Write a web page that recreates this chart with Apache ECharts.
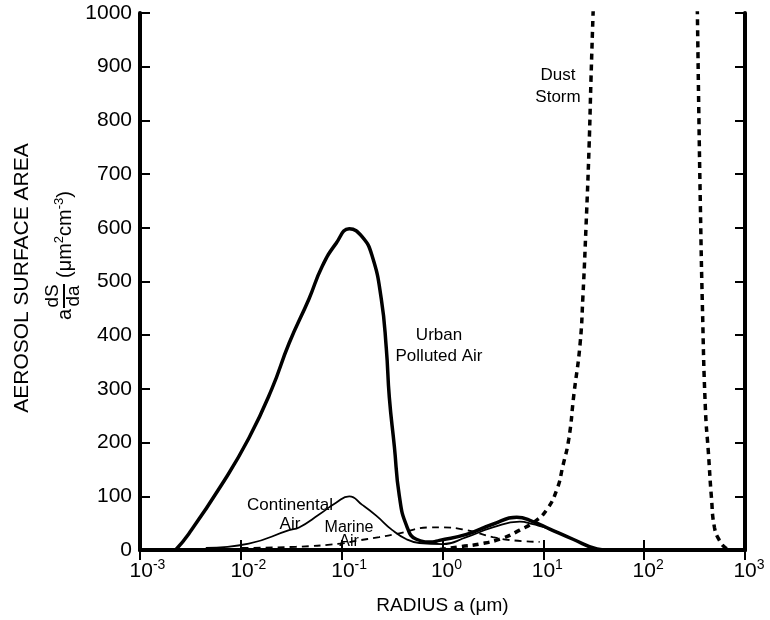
<!DOCTYPE html>
<html>
<head>
<meta charset="utf-8">
<script src="https://cdn.jsdelivr.net/npm/echarts@6/dist/echarts.min.js"></script>
<style>
html, body { margin: 0; padding: 0; background: #fff; }
#main { width: 770px; height: 620px; }
</style>
</head>
<body>
<div id="main"></div>
<script>
// 坐标轴范围
var xMin = 0.001, xMax = 1000;
var yMin = 0, yMax = 1000, yStep = 100;

// Urban Polluted Air
var urbanRadius = [0.00225, 0.00304, 0.00647, 0.012, 0.0203, 0.0301, 0.0475, 0.064, 0.088, 0.119, 0.16, 0.201, 0.247, 0.277, 0.297, 0.333, 0.373, 0.439, 0.551, 0.794, 0.933, 1.73, 3.15, 5.45, 7.87, 11.6, 19.7, 34.1, 42.9, 60];
var urbanArea   = [0, 30, 122, 208, 300, 385, 468, 528, 571, 598, 583, 547, 468, 376, 284, 193, 101, 46, 20, 15, 18, 29, 48, 61, 53, 39, 20, 2, 0, 0];

// Continental Air
var contRadius = [0.00449, 0.012, 0.0301, 0.0378, 0.0597, 0.088, 0.119, 0.16, 0.22, 0.318, 0.439, 0.59, 1.0, 1.73, 3.15, 5.83, 7.87, 11.6, 19.7, 34.1, 42.9];
var contArea   = [4, 12, 37, 42, 66, 88, 100, 84, 64, 37, 20, 13, 11, 24, 42, 53, 48, 39, 20, 2, 0];

// Marine Air
var marineRadius = [0.0102, 0.0352, 0.099, 0.139, 0.236, 0.373, 0.743, 1.0, 1.73, 3.15, 4.98, 9.2];
var marineArea   = [4, 6, 12, 17, 24, 31, 42, 42, 37, 24, 18, 15];

// Dust Storm (两段，中间超出 1000)
var dustLeftRadius = [0.944, 1.48, 2.33, 3.95, 5.83, 8.22, 10.8, 13.6, 15.6, 17.9, 20.1, 23.1, 24.7, 26.5, 28.4, 29.7, 31.1, 32.5];
var dustLeftArea   = [1, 6, 11, 22, 37, 53, 75, 112, 156, 207, 290, 382, 473, 602, 749, 877, 996, 1100];
var dustRightRadius = [333, 337, 348, 361, 378, 405, 434, 465, 498, 557, 640, 718];
var dustRightArea   = [1050, 1000, 820, 640, 455, 262, 180, 97, 42, 18, 4, 0];

var FONT = 'Liberation Sans, Arial, Helvetica, sans-serif';

function pairs(xs, ys) {
  return xs.map(function (x, i) { return [x, ys[i]]; });
}

function lineSeries(name, data, width, type) {
  return {
    name: name,
    type: 'line',
    data: data,
    xAxisIndex: 0,
    yAxisIndex: 0,
    showSymbol: false,
    smooth: 0.5,
    clip: true,
    lineStyle: { color: '#000', width: width, type: type }
  };
}

var myChart = echarts.init(document.getElementById('main'));

var axisLineStyle = { show: true, lineStyle: { color: '#000', width: 4 } };
var tickStyle = { show: true, inside: true, length: 10, lineStyle: { color: '#000', width: 2 } };

var option = {
  backgroundColor: '#fff',
  animation: false,
  grid: { left: 140, right: 25, top: 13, bottom: 62 },
  xAxis: [
    {
      type: 'log',
      logBase: 10,
      min: xMin,
      max: xMax,
      position: 'bottom',
      axisLine: axisLineStyle,
      axisTick: tickStyle,
      minorTick: { show: false },
      splitLine: { show: false },
      name: 'RADIUS a (\u03bcm)',
      nameLocation: 'middle',
      nameGap: 46,
      nameTextStyle: { color: '#000', fontSize: 19, fontFamily: FONT },
      axisLabel: {
        margin: 8,
        color: '#000',
        fontFamily: FONT,
        formatter: function (v) {
          var e = Math.round(Math.log(v) / Math.LN10);
          // 左侧留白，使底数 10 对准刻度
          return (e < 0 ? '{pn|}' : '{pp|}') + '{b|10}{s|' + e + '}';
        },
        rich: {
          pn: { width: 15 },
          pp: { width: 8 },
          b: { fontSize: 21, fontFamily: FONT, color: '#000' },
          s: { fontSize: 14, fontFamily: FONT, color: '#000', padding: [0, 0, 12, 0] }
        }
      }
    },
    {
      type: 'log',
      logBase: 10,
      min: xMin,
      max: xMax,
      position: 'top',
      axisLine: axisLineStyle,
      axisTick: tickStyle,
      axisLabel: { show: false },
      splitLine: { show: false }
    }
  ],
  yAxis: [
    {
      type: 'value',
      min: yMin,
      max: yMax,
      interval: yStep,
      position: 'left',
      axisLine: axisLineStyle,
      axisTick: tickStyle,
      splitLine: { show: false },
      axisLabel: {
        margin: 8, color: '#000', fontSize: 21, fontFamily: FONT,
        formatter: function (v) { return String(v); }
      }
    },
    {
      type: 'value',
      min: yMin,
      max: yMax,
      interval: yStep,
      position: 'right',
      axisLine: axisLineStyle,
      axisTick: tickStyle,
      splitLine: { show: false },
      axisLabel: { show: false }
    }
  ],
  graphic: [
    {
      type: 'text',
      x: 22, y: 278,
      rotation: Math.PI / 2,
      style: { text: 'AEROSOL SURFACE AREA', font: '21px ' + FONT, fill: '#000',
        align: 'center', verticalAlign: 'middle', textAlign: 'center', textVerticalAlign: 'middle' }
    },
    {
      type: 'group',
      x: 62, y: 258,
      rotation: Math.PI / 2,
      children: [
        { type: 'text', x: -62, y: 3,
          style: { text: 'a', font: '20px ' + FONT, fill: '#000', align: 'left', verticalAlign: 'middle', textAlign: 'left', textVerticalAlign: 'middle' } },
        { type: 'text', x: -38, y: -9,
          style: { text: 'dS', font: '19px ' + FONT, fill: '#000', align: 'center', verticalAlign: 'middle', textAlign: 'center', textVerticalAlign: 'middle' } },
        { type: 'line', shape: { x1: -50, y1: 2, x2: -26, y2: 2 }, style: { stroke: '#000', lineWidth: 2 } },
        { type: 'text', x: -38, y: 12,
          style: { text: 'da', font: '19px ' + FONT, fill: '#000', align: 'center', verticalAlign: 'middle', textAlign: 'center', textVerticalAlign: 'middle' } },
        { type: 'text', x: -20, y: 3,
          style: {
            text: '{n|(\u03bcm}{s|2}{n|cm}{s|-3}{n|)}',
            align: 'left', verticalAlign: 'middle', textAlign: 'left', textVerticalAlign: 'middle',
            rich: {
              n: { fontSize: 20, fontFamily: FONT, fill: '#000', color: '#000' },
              s: { fontSize: 13, fontFamily: FONT, fill: '#000', color: '#000', padding: [0, 0, 12, 0] }
            }
          } }
      ]
    },
    {
      type: 'text', x: 558, y: 86,
      style: { text: 'Dust\nStorm', font: '17px ' + FONT, fill: '#000', lineHeight: 22,
        align: 'center', verticalAlign: 'middle', textAlign: 'center', textVerticalAlign: 'middle' }
    },
    {
      type: 'text', x: 439, y: 346,
      style: { text: 'Urban\nPolluted Air', font: '17px ' + FONT, fill: '#000', lineHeight: 21,
        align: 'center', verticalAlign: 'middle', textAlign: 'center', textVerticalAlign: 'middle' }
    },
    {
      type: 'text', x: 290, y: 515,
      style: { text: 'Continental\nAir', font: '17px ' + FONT, fill: '#000', lineHeight: 19,
        align: 'center', verticalAlign: 'middle', textAlign: 'center', textVerticalAlign: 'middle' }
    },
    {
      type: 'text', x: 349, y: 535,
      style: { text: 'Marine\nAir', font: '16px ' + FONT, fill: '#000', lineHeight: 14,
        align: 'center', verticalAlign: 'middle', textAlign: 'center', textVerticalAlign: 'middle' }
    }
  ],
  series: [
    lineSeries('Urban Polluted Air', pairs(urbanRadius, urbanArea), 3.5, 'solid'),
    lineSeries('Continental Air', pairs(contRadius, contArea), 1.8, 'solid'),
    lineSeries('Marine Air', pairs(marineRadius, marineArea), 1.8, [7, 5]),
    lineSeries('Dust Storm', pairs(dustLeftRadius, dustLeftArea), 3.5, [6, 5]),
    lineSeries('Dust Storm', pairs(dustRightRadius, dustRightArea), 3.5, [6, 5])
  ]
};

myChart.setOption(option);
</script>
</body>
</html>
